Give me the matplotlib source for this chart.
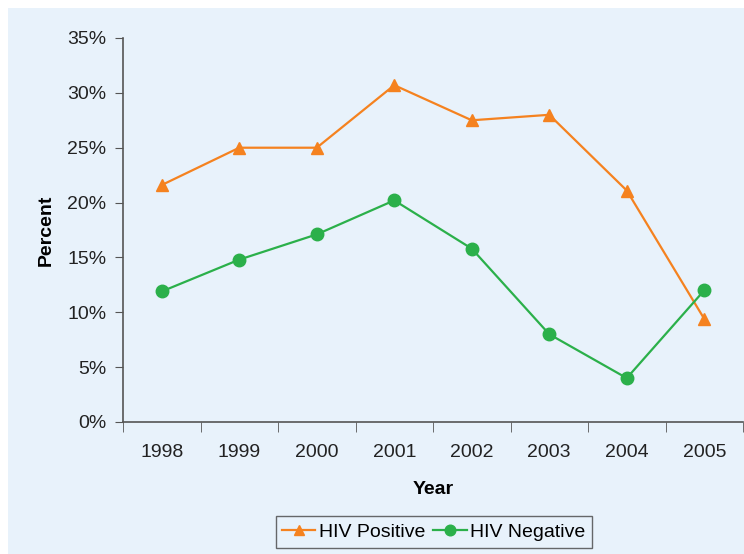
import matplotlib.pyplot as plt
import numpy as np
from matplotlib.patches import Rectangle

years = ['1998', '1999', '2000', '2001', '2002', '2003', '2004', '2005']
hiv_pos = [21.6, 25.0, 25.0, 30.7, 27.5, 28.0, 21.1, 9.4]
hiv_neg = [11.9, 14.8, 17.1, 20.2, 15.8, 8.0, 4.0, 12.0]
yticks = [0, 5, 10, 15, 20, 25, 30, 35]

orange = '#F5821F'
green = '#2BB04A'
panel = '#E8F2FB'
axcol = '#555555'

plt.rcParams['font.family'] = ['Liberation Sans', 'DejaVu Sans']

fig = plt.figure(figsize=(7.44, 5.54), dpi=100)
fig.patch.set_facecolor('white')
bg = Rectangle((8 / 744, 0), 1, 546 / 554, transform=fig.transFigure,
               facecolor=panel, edgecolor='none', zorder=-10)
fig.add_artist(bg)

ax = fig.add_axes([123 / 744, 1 - 422 / 554, 620 / 744, (422 - 38) / 554])
ax.set_facecolor('none')
ax.set_zorder(5)

x = np.arange(len(years)) + 0.5
ax.plot(x, hiv_pos, '-^', color=orange, lw=1.6, ms=9, label='HIV Positive', clip_on=False)
ax.plot(x, hiv_neg, '-o', color=green, lw=1.6, ms=9, label='HIV Negative', clip_on=False)

ax.set_xlim(0, len(years))
ax.set_ylim(0, 35)
ax.set_yticks(yticks)
ax.set_yticklabels([f'{v}%' for v in yticks], fontsize=14, color='#222222')
ax.set_xticks(x)
ax.set_xticklabels(years, fontsize=14, color='#222222')
ax.set_xticks(np.arange(len(years) + 1), minor=True)
ax.tick_params(axis='x', which='major', length=0, pad=16)
ax.tick_params(axis='x', which='minor', length=7, color=axcol, direction='out')
ax.tick_params(axis='y', length=6, color=axcol, direction='out', pad=6)

for s in ['top', 'right']:
    ax.spines[s].set_visible(False)
for s in ['left', 'bottom']:
    ax.spines[s].set_color(axcol)
    ax.spines[s].set_linewidth(1.2)

ax.set_ylabel('Percent', fontsize=14, fontweight='bold', labelpad=9)
ax.set_xlabel('Year', fontsize=14, fontweight='bold', labelpad=14)

leg = ax.legend(loc='center', bbox_to_anchor=(434 / 744, 1 - 532 / 554),
                bbox_transform=fig.transFigure, ncol=2, fontsize=14,
                frameon=True, fancybox=False, handlelength=1.7, markerscale=0.85,
                handletextpad=0.2, columnspacing=0.4, borderpad=0.35,
                borderaxespad=0)
leg.get_frame().set_edgecolor('#444444')
leg.get_frame().set_facecolor('none')
leg.get_frame().set_linewidth(1.0)

fig.savefig('out.png', dpi=100, facecolor=fig.get_facecolor())
